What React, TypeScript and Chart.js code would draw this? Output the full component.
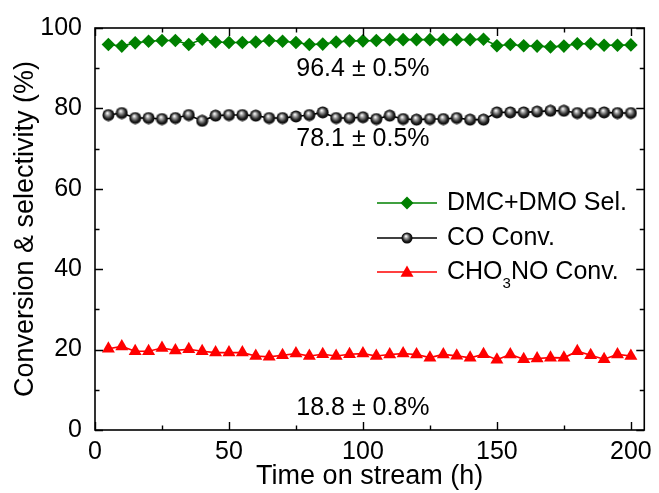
import React, { useEffect, useRef } from 'react';
import { Chart, registerables } from 'chart.js';

Chart.register(...registerables);

// ---------------- data ----------------
const TIME = [5, 10, 15, 20, 25, 30, 35, 40, 45, 50, 55, 60, 65, 70, 75, 80, 85, 90, 95, 100,
  105, 110, 115, 120, 125, 130, 135, 140, 145, 150, 155, 160, 165, 170, 175, 180, 185, 190, 195, 200];

const SEL_DMC_DMO = [95.9, 95.5, 96.3, 96.7, 96.9, 96.9, 95.9, 97.2, 96.5, 96.4,
  96.4, 96.5, 96.9, 96.7, 96.4, 95.9, 96.0, 96.5, 96.8, 96.8,
  96.9, 97.1, 97.1, 97.1, 97.1, 97.1, 97.1, 97.1, 97.2, 95.6,
  95.9, 95.6, 95.5, 95.3, 95.5, 96.1, 96.1, 95.7, 95.7, 95.8];

const CONV_CO = [78.35, 78.85, 77.6, 77.6, 77.35, 77.6, 78.35, 76.9, 78.2, 78.35,
  78.35, 78.2, 77.6, 77.6, 78.0, 78.35, 79.0, 77.6, 77.6, 77.8,
  77.35, 78.2, 77.35, 77.2, 77.35, 77.35, 77.6, 77.2, 77.2, 79.0,
  79.0, 79.0, 79.2, 79.4, 79.4, 78.85, 78.85, 79.0, 78.85, 78.85];

const CONV_CHO3NO = [20.2, 20.8, 19.6, 19.6, 20.4, 19.8, 20.1, 19.6, 19.25, 19.25,
  19.25, 18.4, 18.2, 18.6, 19.0, 18.4, 18.85, 18.4, 18.85, 19.0,
  18.4, 18.8, 19.0, 18.8, 18.0, 18.8, 18.45, 17.95, 18.85, 17.5,
  18.8, 17.6, 17.8, 18.0, 17.95, 19.6, 18.6, 17.6, 18.8, 18.4];

const X_TICKS = [0, 50, 100, 150, 200];
const Y_TICKS = [0, 20, 40, 60, 80, 100];
const X_MINOR = [25, 75, 125, 175];
const Y_MINOR = [10, 30, 50, 70, 90];

const SERIES_LABELS = ['DMC+DMO Sel.', 'CO Conv.', 'CHO|3|NO Conv.'];
const NOTE_TEXTS = ['96.4 \u00b1 0.5%', '78.1 \u00b1 0.5%', '18.8 \u00b1 0.8%'];
const NOTE_X = 100;
const NOTE_Y = [89.8, 72.4, 5.4];

const X_TITLE = 'Time on stream (h)';
const Y_TITLE = 'Conversion & selectivity (%)';

// ---------------- styles ----------------
const FONT = '"Liberation Sans", Arial, Helvetica, sans-serif';
const GREEN = '#008000';
const RED = '#ff0000';
const BLACK = '#000000';

function makeSphere(r: number): HTMLCanvasElement {
  const c = document.createElement('canvas');
  const s = Math.ceil(r * 2 + 1);
  c.width = s;
  c.height = s;
  const g = c.getContext('2d')!;
  const cx = s / 2;
  const cy = s / 2;
  const grad = g.createRadialGradient(cx - r * 0.2, cy - r * 0.35, r * 0.05, cx, cy, r);
  grad.addColorStop(0, '#ffffff');
  grad.addColorStop(0.3, '#9a9a9a');
  grad.addColorStop(0.7, '#222222');
  grad.addColorStop(1, '#000000');
  g.beginPath();
  g.arc(cx, cy, r, 0, Math.PI * 2);
  g.fillStyle = grad;
  g.fill();
  return c;
}

function drawDiamond(ctx: CanvasRenderingContext2D, x: number, y: number, r: number, color: string) {
  ctx.beginPath();
  ctx.moveTo(x - r, y);
  ctx.lineTo(x, y - r);
  ctx.lineTo(x + r, y);
  ctx.lineTo(x, y + r);
  ctx.closePath();
  ctx.fillStyle = color;
  ctx.fill();
}

function drawTriangle(ctx: CanvasRenderingContext2D, x: number, y: number, r: number, color: string) {
  ctx.beginPath();
  ctx.moveTo(x, y - r);
  ctx.lineTo(x + r * 0.866, y + r * 0.5);
  ctx.lineTo(x - r * 0.866, y + r * 0.5);
  ctx.closePath();
  ctx.fillStyle = color;
  ctx.fill();
}

export default function App() {
  const ref = useRef<HTMLCanvasElement | null>(null);

  useEffect(() => {
    if (!ref.current) return;
    const sphere = makeSphere(6);
    const legendSphere = makeSphere(5.5);

    const framePlugin = {
      id: 'frameTicks',
      afterDatasetsDraw(chart: any) {
        const { ctx, chartArea: a, scales } = chart;
        const xs = scales.x;
        const ys = scales.y;
        ctx.save();
        ctx.strokeStyle = '#000';
        ctx.lineWidth = 1.6;
        ctx.strokeRect(a.left, a.top, a.right - a.left, a.bottom - a.top);
        ctx.lineWidth = 1.4;
        const majL = 8;
        const minL = 4.5;
        ctx.beginPath();
        const xt = (v: number, len: number) => {
          const px = Math.round(xs.getPixelForValue(v)) + 0.5;
          ctx.moveTo(px, a.bottom);
          ctx.lineTo(px, a.bottom - len);
          ctx.moveTo(px, a.top);
          ctx.lineTo(px, a.top + len);
        };
        const yt = (v: number, len: number) => {
          const py = Math.round(ys.getPixelForValue(v)) + 0.5;
          ctx.moveTo(a.left, py);
          ctx.lineTo(a.left + len, py);
          ctx.moveTo(a.right, py);
          ctx.lineTo(a.right - len, py);
        };
        X_TICKS.forEach((v) => xt(v, majL));
        X_MINOR.forEach((v) => xt(v, minL));
        Y_TICKS.forEach((v) => yt(v, majL));
        Y_MINOR.forEach((v) => yt(v, minL));
        ctx.stroke();
        ctx.restore();
      },
    };

    const textPlugin = {
      id: 'notesLegend',
      afterDraw(chart: any) {
        const { ctx, scales } = chart;
        ctx.save();
        ctx.fillStyle = '#000';
        ctx.font = `25px ${FONT}`;
        ctx.textAlign = 'center';
        ctx.textBaseline = 'middle';
        NOTE_TEXTS.forEach((t, i) => {
          ctx.fillText(t, scales.x.getPixelForValue(NOTE_X), scales.y.getPixelForValue(NOTE_Y[i]));
        });

        // legend
        const rows = [203, 238, 272];
        const lx0 = 377;
        const lx1 = 437;
        const mx = 407;
        const tx = 447;
        const colors = [GREEN, BLACK, RED];
        rows.forEach((ry, i) => {
          ctx.beginPath();
          ctx.strokeStyle = colors[i];
          ctx.lineWidth = 1.6;
          ctx.moveTo(lx0, ry);
          ctx.lineTo(lx1, ry);
          ctx.stroke();
          if (i === 0) drawDiamond(ctx, mx, ry, 6.5, GREEN);
          if (i === 1) ctx.drawImage(legendSphere, mx - legendSphere.width / 2, ry - legendSphere.height / 2);
          if (i === 2) drawTriangle(ctx, mx, ry + 1, 7.5, RED);

          ctx.fillStyle = '#000';
          ctx.textAlign = 'left';
          ctx.textBaseline = 'middle';
          const parts = SERIES_LABELS[i].split('|');
          let x = tx;
          parts.forEach((p, k) => {
            if (k % 2 === 1) {
              ctx.font = `15px ${FONT}`;
              ctx.fillText(p, x, ry + 12);
              x += ctx.measureText(p).width;
            } else {
              ctx.font = `25px ${FONT}`;
              ctx.fillText(p, x, ry);
              x += ctx.measureText(p).width;
            }
          });
        });
        ctx.restore();
      },
    };

    const chart = new Chart(ref.current, {
      type: 'line',
      data: {
        datasets: [
          {
            label: SERIES_LABELS[0],
            data: TIME.map((t, i) => ({ x: t, y: SEL_DMC_DMO[i] })),
            borderColor: GREEN,
            backgroundColor: GREEN,
            borderWidth: 1.6,
            pointStyle: 'rectRot',
            pointRadius: 6.8,
            pointBorderWidth: 0,
            pointBackgroundColor: GREEN,
          },
          {
            label: SERIES_LABELS[1],
            data: TIME.map((t, i) => ({ x: t, y: CONV_CO[i] })),
            borderColor: BLACK,
            backgroundColor: BLACK,
            borderWidth: 1.6,
            pointStyle: sphere as any,
            pointRadius: 6,
          },
          {
            label: SERIES_LABELS[2],
            data: TIME.map((t, i) => ({ x: t, y: CONV_CHO3NO[i] })),
            borderColor: RED,
            backgroundColor: RED,
            borderWidth: 1.6,
            pointStyle: 'triangle',
            pointRadius: 7.5,
            pointBorderWidth: 0,
            pointBackgroundColor: RED,
          },
        ],
      },
      options: {
        animation: false,
        responsive: false,
        devicePixelRatio: 1,
        layout: { padding: { top: 27, right: 11, bottom: 0, left: 0 } },
        plugins: {
          legend: { display: false },
          tooltip: { enabled: false },
        },
        scales: {
          x: {
            type: 'linear',
            min: 0,
            max: 205,
            afterBuildTicks: (s: any) => {
              s.ticks = X_TICKS.map((v) => ({ value: v }));
            },
            afterFit: (s: any) => {
              s.height = 63;
            },
            grid: { display: false, drawTicks: false },
            border: { display: false },
            ticks: {
              autoSkip: false,
              maxRotation: 0,
              padding: 7,
              color: '#000',
              font: { family: FONT, size: 25 },
            },
            title: {
              display: true,
              text: X_TITLE,
              color: '#000',
              font: { family: FONT, size: 27 },
              padding: { top: 0, bottom: 0 },
            },
          },
          y: {
            type: 'linear',
            min: 0,
            max: 100,
            afterBuildTicks: (s: any) => {
              s.ticks = Y_TICKS.map((v) => ({ value: v }));
            },
            afterFit: (s: any) => {
              s.width = 95;
            },
            grid: { display: false, drawTicks: false },
            border: { display: false },
            ticks: {
              autoSkip: false,
              padding: 13,
              color: '#000',
              font: { family: FONT, size: 25 },
            },
            title: {
              display: true,
              text: Y_TITLE,
              color: '#000',
              font: { family: FONT, size: 27 },
              padding: { top: 9, bottom: 0 },
            },
          },
        },
      } as any,
      plugins: [framePlugin, textPlugin],
    });
    return () => chart.destroy();
  }, []);

  return (
    <div style={{ position: 'absolute', left: 0, top: 0, width: 659, height: 493, background: '#fff' }}>
      <canvas ref={ref} width={659} height={493} />
    </div>
  );
}
